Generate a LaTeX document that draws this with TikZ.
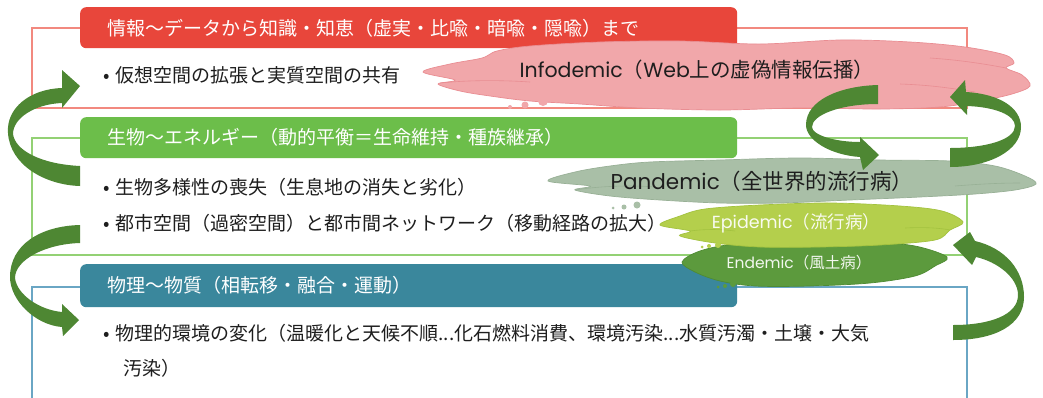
\documentclass[tikz,border=0pt]{standalone}
\usepackage{fontspec}
\setmainfont{Noto Sans CJK JP}
\newfontfamily\lat{Poppins}
\definecolor{redhead}{HTML}{E8463B}
\definecolor{redline}{HTML}{F2897F}
\definecolor{greenhead}{HTML}{6CBE4A}
\definecolor{greenline}{HTML}{93D174}
\definecolor{bluehead}{HTML}{3A879C}
\definecolor{blueline}{HTML}{6AA6C4}
\definecolor{pinkcloud}{HTML}{F1A7AA}
\definecolor{pinkedge}{HTML}{E98D92}
\definecolor{pancloud}{HTML}{A9BFA7}
\definecolor{panedge}{HTML}{98B096}
\definecolor{epicloud}{HTML}{B4CF4C}
\definecolor{epiedge}{HTML}{A3C23F}
\definecolor{endcloud}{HTML}{5C9A3D}
\definecolor{endedge}{HTML}{4F8B33}
\definecolor{arrowgreen}{HTML}{4E8733}
\definecolor{txt}{HTML}{1E1E1E}
\begin{document}
\begin{tikzpicture}[x=1pt,y=-1pt,
  header/.style={rounded corners=6pt, inner sep=0pt, minimum width=657pt, minimum height=41pt, anchor=north west},
  headtext/.style={anchor=west, inner sep=0pt, text=white, font=\fontsize{19}{22}\selectfont},
  bullet/.style={anchor=west, inner sep=0pt, text=txt, font=\fontsize{19}{22}\selectfont},
  frame/.style={line width=1.3pt},
  cloudedge/.style={line width=0.7pt},
  streak/.style={line width=0.6pt},
  cloudtext/.style={inner sep=0pt, anchor=center},
  ribbon/.style={fill=arrowgreen}]
\useasboundingbox (0,0) rectangle (1043,397);
\fill[white] (0,0) rectangle (1043,397);

% section frames
\draw[frame, redline] (32,28) rectangle (967,108);
\draw[frame, greenline] (32,138) rectangle (967,255);
\draw[frame, blueline] (32,287) rectangle (967,420);

% headers
\node[header, fill=redhead] (hred) at (80,7) {};
\node[header, fill=greenhead] (hgreen) at (80,117) {};
\node[header, fill=bluehead, minimum height=43pt] (hblue) at (80,264) {};
\node[headtext] (tred) at (107,28) {情報～データから知識・知恵（虚実・比喩・暗喩・隠喩）まで};
\node[headtext] (tgreen) at (107,137) {生物～エネルギー（動的平衡＝生命維持・種族継承）};
\node[headtext] (tblue) at (107,285) {物理～物質（相転移・融合・運動）};

% bullets
\node[bullet] (b1) at (103,75) {•\kern6pt 仮想空間の拡張と実質空間の共有};
\node[bullet] (b2) at (103,187) {•\kern6pt 生物多様性の喪失（生息地の消失と劣化）};
\node[bullet] (b3) at (103,223) {•\kern6pt 都市空間（過密空間）と都市間ネットワーク（移動経路の拡大）};
\node[bullet] (b4) at (103,333) {•\kern6pt 物理的環境の変化（温暖化と天候不順...化石燃料消費、環境汚染...水質汚濁・土壌・大気};
\node[bullet] (b4b) at (123,368) {汚染）};

% clouds
\path[cloudedge, draw=pinkedge, fill=pinkcloud] plot[smooth cycle, tension=0.55] coordinates {(423,72) (450,64) (482,58) (497,51) (530,46) (600,42) (680,41) (760,44) (840,40) (910,42) (965,47) (1005,55) (1014,63) (1006,68) (1022,75) (1030,86) (1012,94) (980,101) (940,107) (880,109) (800,108) (720,110) (640,108) (580,104) (530,101) (490,96) (460,91) (438,84) (455,80)};
\draw[streak, pinkedge] (440,83) .. controls (470,80) and (500,80) .. (530,82);
\draw[streak, pinkedge] (900,84) .. controls (930,85) and (950,88) .. (975,92);
\draw[streak, pinkedge] (930,58) .. controls (960,60) and (985,64) .. (1006,68);
\path[cloudedge, draw=panedge, fill=pancloud] plot[smooth cycle, tension=0.55] coordinates {(548,181) (575,172) (610,166) (650,162) (720,160) (800,158) (880,160) (950,161) (995,166) (1025,176) (1036,184) (1015,190) (975,194) (920,197) (850,200) (780,203) (720,203) (660,200) (610,196) (575,190) (590,186)};
\draw[streak, panedge] (575,190) .. controls (600,186) and (630,185) .. (655,187);
\draw[streak, panedge] (955,186) .. controls (980,184) and (1000,183) .. (1020,183);
\path[cloudedge, draw=endedge, fill=endcloud] plot[smooth cycle, tension=0.55] coordinates {(682,262) (700,251) (735,244) (800,241) (870,242) (915,246) (947,257) (935,266) (915,276) (870,283) (810,286) (755,286) (720,281) (695,272)};
\path[cloudedge, draw=epiedge, fill=epicloud] plot[smooth cycle, tension=0.55] coordinates {(660,225) (680,216) (705,209) (760,205) (830,203) (900,206) (942,211) (963,222) (950,230) (935,240) (880,245) (820,247) (760,247) (715,243) (680,236) (690,231)};
\draw[streak, epiedge] (690,231) .. controls (705,229) and (720,229) .. (735,231);
\draw[streak, epiedge] (905,228) .. controls (925,227) and (940,228) .. (950,230);

% thought bubbles
\fill[pinkcloud] (510,107) circle (2pt) (525,105) circle (3.5pt) (543,101) circle (5pt);
\fill[pancloud] (613,208) circle (1.5pt) (624,207) circle (2.5pt) (637,205) circle (3.5pt);
\fill[epicloud] (702,247) circle (1.5pt) (709,246) circle (2pt) (718,245) circle (3pt);
\fill[endcloud] (718,287) circle (1.5pt) (725,286) circle (2pt) (733,284) circle (3pt);

% cloud texts
\node[cloudtext, text=txt, font=\fontsize{20.5}{24}\selectfont] (info) at (697,70) {{\lat Infodemic}（{\lat Web}上の虚偽情報伝播）};
\node[cloudtext, text=txt, font=\fontsize{21.5}{24}\selectfont] (pan) at (762,181) {{\lat Pandemic}（全世界的流行病）};
\node[cloudtext, text=white!92!epicloud, font=\fontsize{17.5}{20}\selectfont] (epi) at (796,223) {{\lat Epidemic}（流行病）};
\node[cloudtext, text=white!92!endcloud, font=\fontsize{15.5}{18}\selectfont] (endm) at (799,263) {{\lat Endemic}（風土病）};

% curved arrows
\fill[ribbon] (80,166) .. controls (40,164) and (15,150) .. (13,134) .. controls (13,118) and (35,104) .. (62,103) -- (62,108) -- (80,86) -- (62,70) -- (62,88) .. controls (30,89) and (6,108) .. (8,133) .. controls (10,165) and (45,185) .. (80,186) -- cycle;
\fill[ribbon] (80,225) .. controls (40,226) and (10,245) .. (10,277) .. controls (10,300) and (35,325) .. (62,327) -- (63,336) -- (79,320) -- (62,304) -- (62,312) .. controls (40,310) and (17,295) .. (15,278) .. controls (15,260) and (45,244) .. (80,243) -- cycle;
\fill[ribbon] (878,85) .. controls (840,86) and (806,100) .. (806,125) .. controls (806,140) and (830,155) .. (860,157) -- (863,170) -- (879,155) -- (860,137) -- (860,142) .. controls (835,142) and (812,135) .. (812,127) .. controls (812,115) and (840,104) .. (878,104) -- cycle;
\fill[ribbon] (950,167) .. controls (990,167) and (1021,150) .. (1021,127) .. controls (1021,108) and (1000,94) .. (966,92) -- (965,80) -- (950,97) -- (967,115) -- (967,106) .. controls (995,107) and (1015,115) .. (1015,126) .. controls (1015,140) and (985,148) .. (950,148) -- cycle;
\fill[ribbon] (953,340) .. controls (995,340) and (1024,325) .. (1024,297) .. controls (1024,270) and (1005,248) .. (975,241) -- (970,232) -- (953,245) -- (972,265) -- (976,257) .. controls (998,262) and (1018,278) .. (1018,295) .. controls (1018,315) and (990,325) .. (953,325) -- cycle;
\end{tikzpicture}
\end{document}
